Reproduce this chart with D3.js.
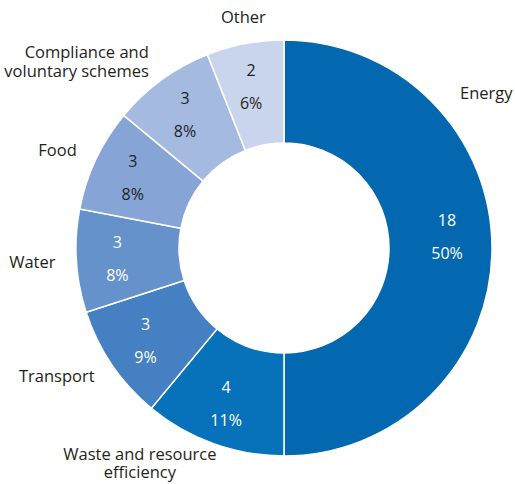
<!DOCTYPE html>
<html>
<head>
<meta charset="utf-8">
<script src="https://cdn.jsdelivr.net/npm/d3@7"></script>
<style>
  html, body { margin: 0; padding: 0; background: #fff; }
  svg { display: block; font-family: "Open Sans", "Noto Sans", sans-serif; }
</style>
</head>
<body>
<svg id="chart" width="515" height="484"></svg>
<script>
// Categories in drawing order (clockwise from 12 o'clock)
const categories = ["Energy", "Waste and resource efficiency", "Transport", "Water", "Food",
                    "Compliance and voluntary schemes", "Other"];
// Number of items per category
const counts = [18, 4, 3, 3, 3, 3, 2];
// Share of the total, in percent
const shares = [50, 11, 9, 8, 8, 8, 6];
// Display lines for each category name
const nameLines = [["Energy"], ["Waste and resource", "efficiency"], ["Transport"], ["Water"], ["Food"],
                   ["Compliance and", "voluntary schemes"], ["Other"]];
const colors = ["#0468b1", "#0772b9", "#4580c2", "#6592cb", "#86a5d6", "#a5bae0", "#c8d5ec"];

const width = 515, height = 484;
const cx = 284, cy = 248;
const outerR = 208, innerR = 105;

const svg = d3.select("#chart");
const g = svg.append("g").attr("transform", `translate(${cx},${cy})`);

const data = categories.map((c, i) => ({ name: c, count: counts[i], share: shares[i], lines: nameLines[i], color: colors[i] }));

const pie = d3.pie().value(d => d.share).sort(null);
const arcs = pie(data);

const arc = d3.arc().innerRadius(innerR).outerRadius(outerR);

g.selectAll("path.slice")
  .data(arcs)
  .join("path")
  .attr("class", "slice")
  .attr("d", arc)
  .attr("fill", d => d.data.color)
  .attr("stroke", "#fff")
  .attr("stroke-width", 1.5);

// Value labels inside each slice
const valueArc = d3.arc().innerRadius(165).outerRadius(165);
const valueShift = { "Energy": -12 };
const valueLabels = g.selectAll("g.value")
  .data(arcs)
  .join("g")
  .attr("class", "value")
  .attr("transform", d => {
    const [x, y] = valueArc.centroid(d);
    return `translate(${x - 2},${y + (valueShift[d.data.name] || 0)})`;
  })
  .attr("fill", d => d.index < 4 ? "#ffffff" : "#231f20")
  .attr("text-anchor", "middle")
  .style("font-size", "16px");

valueLabels.append("text").attr("y", -16).attr("dy", "0.35em").text(d => d.data.count);
valueLabels.append("text").attr("y", 17).attr("dy", "0.35em").text(d => d.data.share + "%");

// Category names outside the ring
const namePlacement = {
  "Energy": { angle: 52.5, r: 255, anchor: "middle" },
  "Waste and resource efficiency": { angle: 213.8, r: 259, anchor: "middle" },
  "Compliance and voluntary schemes": { angle: null, r: 230, anchor: "end" },
  "Other": { angle: 350, r: 234, anchor: "middle" }
};
const lineH = 18.5;

const nameLabels = g.selectAll("text.name")
  .data(arcs)
  .join("text")
  .attr("class", "name")
  .attr("fill", "#231f20")
  .style("font-size", "16.5px")
  .each(function (d) {
    const p = namePlacement[d.data.name] || {};
    const midDeg = (d.startAngle + d.endAngle) / 2 * 180 / Math.PI;
    const a = (p.angle != null ? p.angle : midDeg) * Math.PI / 180;
    const r = p.r || 229;
    const x = r * Math.sin(a), y = -r * Math.cos(a);
    const anchor = p.anchor || "end";
    const t = d3.select(this).attr("text-anchor", anchor);
    const n = d.data.lines.length;
    d.data.lines.forEach((line, i) => {
      t.append("tspan")
        .attr("x", x)
        .attr("y", y + (i - (n - 1) / 2) * lineH)
        .attr("dy", "0.35em")
        .text(line);
    });
  });
</script>
</body>
</html>
